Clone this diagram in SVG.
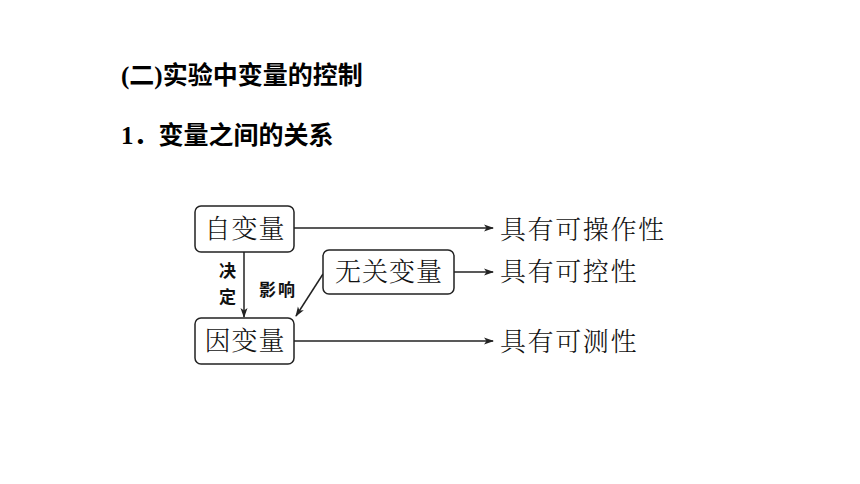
<svg xmlns="http://www.w3.org/2000/svg" width="860" height="484" viewBox="0 0 860 484">
<style>
.h{font-family:"Liberation Serif","Noto Sans CJK SC",serif;font-weight:bold;font-size:25px;fill:#000}
.t{font-family:"Noto Serif CJK SC","Noto Sans CJK SC",serif;font-size:26px;fill:#111;font-weight:300}
.r{letter-spacing:1.6px}
.s{font-family:"Noto Sans CJK SC",serif;font-size:17px;font-weight:bold;fill:#111}
.box{fill:#fff;stroke:#222;stroke-width:1.5}
.ln{stroke:#222;stroke-width:1.5;fill:none}
</style>
<defs>
<marker id="ah" markerWidth="10" markerHeight="8" refX="9" refY="4" orient="auto" markerUnits="userSpaceOnUse">
<path d="M0,0.5 L10,4 L0,7.5 L2.5,4 Z" fill="#222"/>
</marker>
</defs>
<rect width="860" height="484" fill="#fff"/>
<text class="h" x="121" y="84">(二)实验中变量的控制</text>
<text class="h" x="121" y="144">1．变量之间的关系</text>
<g id="connectors">
<line class="ln" x1="294" y1="228" x2="493" y2="228" marker-end="url(#ah)"/>
<line class="ln" x1="454" y1="272" x2="493" y2="272" marker-end="url(#ah)"/>
<line class="ln" x1="294" y1="341" x2="493" y2="341" marker-end="url(#ah)"/>
<line class="ln" x1="244" y1="252" x2="244" y2="317" marker-end="url(#ah)"/>
<line class="ln" x1="323" y1="274" x2="296" y2="316" marker-end="url(#ah)"/>
<text class="s" x="219" y="277">决</text>
<text class="s" x="219" y="303">定</text>
<text class="s" x="259" y="296" style="letter-spacing:2px">影响</text>
</g>
<g id="n-zibianliang">
<rect class="box" x="195" y="206" width="99" height="46" rx="6"/>
<text class="t" x="245" y="238" text-anchor="middle" style="letter-spacing:1px">自变量</text>
</g>
<g id="n-wuguan">
<rect class="box" x="323" y="250" width="131" height="44" rx="6"/>
<text class="t" x="389" y="281" text-anchor="middle" style="letter-spacing:1px">无关变量</text>
</g>
<g id="n-yinbianliang">
<rect class="box" x="195" y="318" width="99" height="46" rx="6"/>
<text class="t" x="245" y="350" text-anchor="middle" style="letter-spacing:1px">因变量</text>
</g>
<g id="n-r1"><text class="t r" x="500" y="239">具有可操作性</text></g>
<g id="n-r2"><text class="t r" x="500" y="281">具有可控性</text></g>
<g id="n-r3"><text class="t r" x="500" y="351">具有可测性</text></g>
</svg>
